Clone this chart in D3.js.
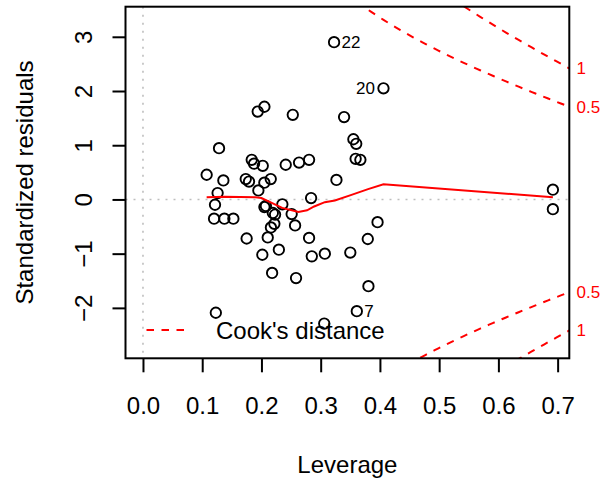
<!DOCTYPE html>
<html>
<head>
<meta charset="utf-8">
<script src="https://cdn.jsdelivr.net/npm/d3@7"></script>
<style>
  html, body { margin: 0; padding: 0; background: #fff; }
  svg { display: block; }
</style>
</head>
<body>
<svg id="chart" width="610" height="481"></svg>
<script>
// Residuals vs leverage for a fitted linear model
const leverage = [
  0.3226, 0.406, 0.361, 0.692, 0.692,
  0.1284, 0.1075, 0.1357, 0.126, 0.1216,
  0.1836, 0.1875, 0.2022, 0.1735, 0.179,
  0.1948, 0.2049, 0.2157, 0.241, 0.2635,
  0.2804, 0.2838, 0.205, 0.2075, 0.2353,
  0.12, 0.1374, 0.1526, 0.2192, 0.223,
  0.251, 0.2568, 0.2218, 0.216, 0.2106,
  0.175, 0.2015, 0.2294, 0.218, 0.2584,
  0.2804, 0.285, 0.307, 0.350, 0.3795,
  0.396, 0.3806, 0.123, 0.306, 0.1937,
  0.205, 0.2529, 0.3395, 0.3552, 0.36,
  0.359, 0.367, 0.3266
];
const stdResid = [
  2.90, 2.05, -2.06, 0.18, -0.18,
  0.946, 0.455, 0.35, 0.118, -0.098,
  0.73, 0.66, 0.62, 0.376, 0.33,
  0.166, 0.31, 0.376, 0.64, 0.68,
  0.73, 0.026, -0.14, -0.12, -0.09,
  -0.355, -0.355, -0.355, -0.25, -0.28,
  -0.27, -0.48, -0.45, -0.516, -0.70,
  -0.72, -1.02, -0.926, -1.356, -1.45,
  -0.71, -1.05, -1.0, -0.98, -0.73,
  -0.42, -1.60, -2.09, -2.29, 1.62,
  1.71, 1.56, 1.52, 1.11, 1.026,
  0.75, 0.73, 0.36
];

// observations flagged with their case number
const idPoint = [0, 1, 2];
const idText = ["22", "20", "7"];
const idSide = ["right", "left", "right"];

// smoothed trend of the residuals
const smoothLev = [0.1075, 0.138, 0.19, 0.2, 0.212, 0.235, 0.2625, 0.277, 0.289, 0.307, 0.324, 0.352, 0.38, 0.406, 0.692];
const smoothRes = [0.04, 0.05, 0.04, 0.025, -0.035, -0.155, -0.23, -0.2, -0.13, -0.05, -0.02, 0.085, 0.19, 0.28, 0.04];

// Cook's distance contours
const cookLevels = [0.5, 1];
const modelRank = 15;

const xTicks = [0, 0.1, 0.2, 0.3, 0.4, 0.5, 0.6, 0.7];
const yTicks = [-2, -1, 0, 1, 2, 3];

const FONT = "'Liberation Sans', Arial, Helvetica, sans-serif";
const RED = "#ff0000";

const svg = d3.select("#chart").style("font-family", FONT);
const box = { left: 125.5, right: 569.3, top: 6.7, bottom: 358.3 };

const x = d3.scaleLinear().domain([-0.0295, 0.7197]).range([box.left, box.right]);
const y = d3.scaleLinear().domain([-2.93, 3.555]).range([box.bottom, box.top]);

svg.append("defs").append("clipPath").attr("id", "plotClip")
  .append("rect")
  .attr("x", box.left).attr("y", box.top)
  .attr("width", box.right - box.left).attr("height", box.bottom - box.top);

const plot = svg.append("g").attr("clip-path", "url(#plotClip)");

// reference lines at zero
plot.append("line")
  .attr("x1", box.left).attr("x2", box.right)
  .attr("y1", y(0)).attr("y2", y(0))
  .attr("stroke", "#bebebe").attr("stroke-width", 1.6).attr("stroke-dasharray", "2,6");
plot.append("line")
  .attr("x1", x(0)).attr("x2", x(0))
  .attr("y1", box.top).attr("y2", box.bottom)
  .attr("stroke", "#bebebe").attr("stroke-width", 1.6).attr("stroke-dasharray", "2,6");

// points
plot.selectAll("circle.obs")
  .data(leverage.map((h, i) => [h, stdResid[i]]))
  .join("circle")
  .attr("class", "obs")
  .attr("cx", d => x(d[0]))
  .attr("cy", d => y(d[1]))
  .attr("r", 5.2)
  .attr("fill", "none")
  .attr("stroke", "#000")
  .attr("stroke-width", 1.9);

// smoother
plot.append("path")
  .datum(smoothLev.map((h, i) => [h, smoothRes[i]]))
  .attr("d", d3.line().x(d => x(d[0])).y(d => y(d[1])))
  .attr("fill", "none")
  .attr("stroke", RED)
  .attr("stroke-width", 2);

// Cook's distance contours: r = ±sqrt(level * p * (1 - h) / h)
const hMax = x.domain()[1];
const hStart = d3.max(leverage) / 100;
const hh = d3.range(101).map(i => hStart + (hMax - hStart) * i / 100);
cookLevels.forEach(level => {
  [1, -1].forEach(sign => {
    plot.append("path")
      .datum(hh.map(h => [h, sign * Math.sqrt(level * modelRank * (1 - h) / h)]))
      .attr("d", d3.line().x(d => x(d[0])).y(d => y(Math.max(-50, Math.min(50, d[1])))))
      .attr("fill", "none")
      .attr("stroke", RED)
      .attr("stroke-width", 2)
      .attr("stroke-dasharray", "7.5,7.5");
  });
});

// case labels
idPoint.forEach((p, k) => {
  const right = idSide[k] === "right";
  svg.append("text")
    .attr("x", x(leverage[p]) + (right ? 7.5 : -8.5))
    .attr("y", y(stdResid[p]) + 6)
    .attr("text-anchor", right ? "start" : "end")
    .attr("font-size", 17)
    .attr("fill", "#000")
    .text(idText[k]);
});

// legend
svg.append("line")
  .attr("x1", 146.5).attr("x2", 186)
  .attr("y1", 330).attr("y2", 330)
  .attr("stroke", RED).attr("stroke-width", 2)
  .attr("stroke-dasharray", "7.5,7.5");
svg.append("text")
  .attr("x", 216).attr("y", 338.5)
  .attr("font-size", 24)
  .attr("fill", "#000")
  .text("Cook's distance");

// frame
svg.append("rect")
  .attr("x", box.left).attr("y", box.top)
  .attr("width", box.right - box.left).attr("height", box.bottom - box.top)
  .attr("fill", "none").attr("stroke", "#000").attr("stroke-width", 2);

// x axis
const gx = svg.append("g")
  .attr("transform", `translate(0,${box.bottom})`)
  .call(d3.axisBottom(x).tickValues(xTicks).tickSize(14).tickFormat(d3.format(".1f")));
gx.select(".domain").remove();
gx.selectAll(".tick line").attr("stroke", "#000").attr("stroke-width", 2);
gx.selectAll(".tick text")
  .attr("y", 414 - box.bottom).attr("dy", null)
  .attr("font-size", 24).attr("font-family", FONT).attr("fill", "#000");

// y axis
const gy = svg.append("g")
  .attr("transform", `translate(${box.left},0)`)
  .call(d3.axisLeft(y).tickValues(yTicks).tickSize(13).tickFormat(d3.format("d")));
gy.select(".domain").remove();
gy.selectAll(".tick line").attr("stroke", "#000").attr("stroke-width", 2);
gy.selectAll(".tick text")
  .attr("x", null).attr("dy", null)
  .attr("transform", `translate(${92 - box.left},0) rotate(-90)`)
  .attr("text-anchor", "middle")
  .attr("font-size", 24).attr("font-family", FONT).attr("fill", "#000");

// Cook's distance levels on the right edge
const yMult = Math.sqrt(modelRank * (1 - hMax) / hMax);
cookLevels.forEach(level => {
  [1, -1].forEach(sign => {
    svg.append("text")
      .attr("x", box.right + 7.3)
      .attr("y", y(sign * Math.sqrt(level) * yMult) + 6)
      .attr("font-size", 17)
      .attr("fill", RED)
      .text(String(level));
  });
});

// axis titles
svg.append("text")
  .attr("x", (box.left + box.right) / 2).attr("y", 473)
  .attr("text-anchor", "middle")
  .attr("font-size", 24).attr("fill", "#000")
  .text("Leverage");
svg.append("text")
  .attr("transform", `translate(33,${(box.top + box.bottom) / 2}) rotate(-90)`)
  .attr("text-anchor", "middle")
  .attr("font-size", 24).attr("fill", "#000")
  .text("Standardized residuals");
</script>
</body>
</html>
